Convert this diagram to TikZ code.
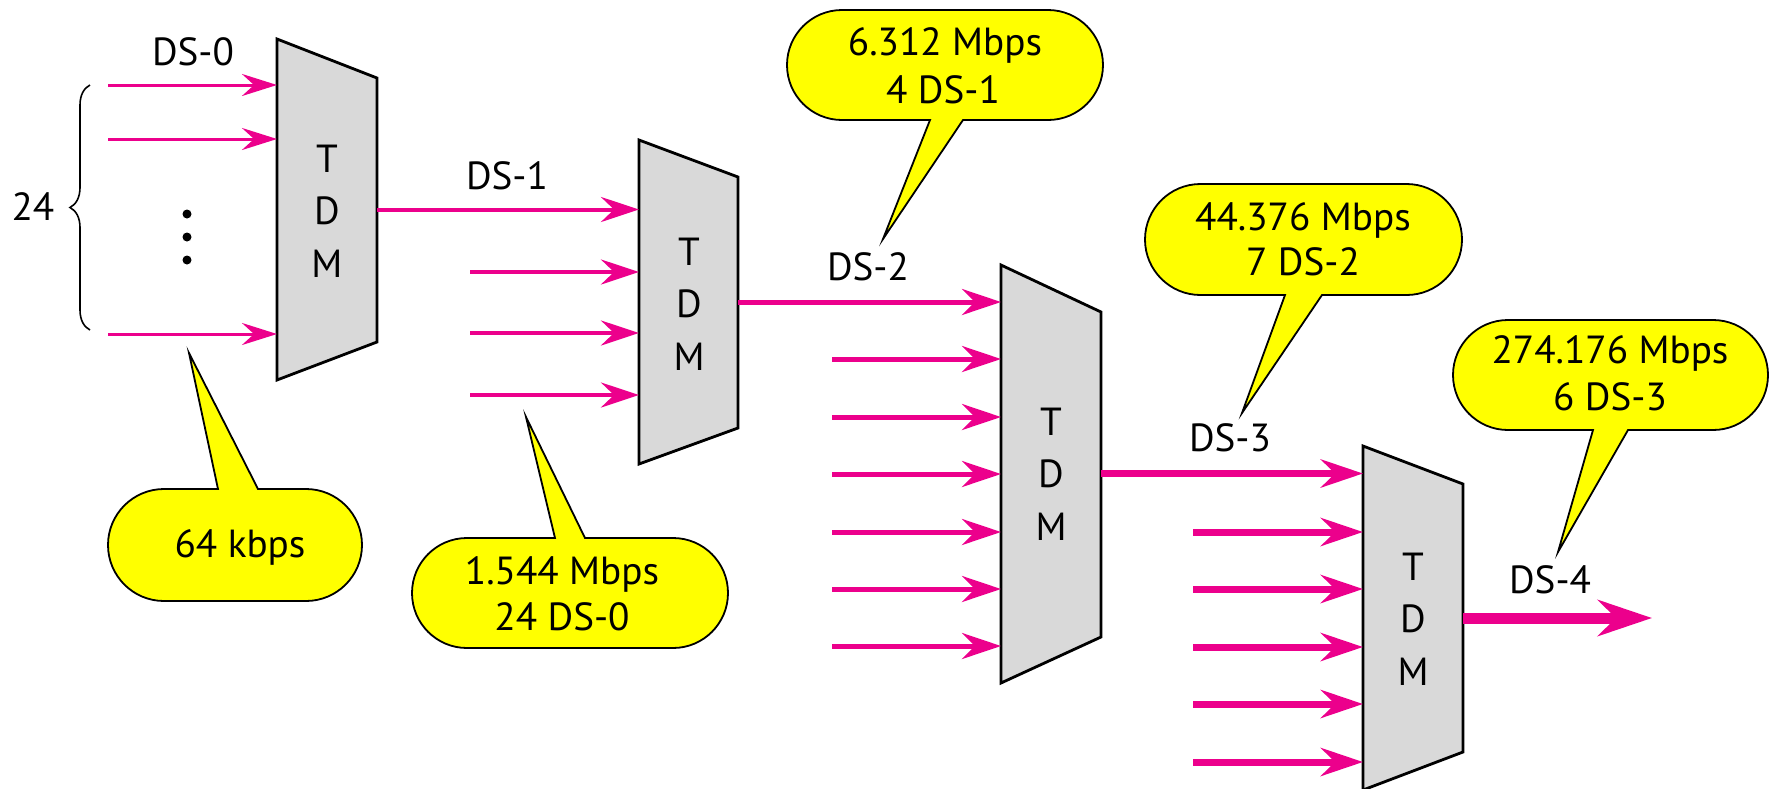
\documentclass[tikz,border=0pt]{standalone}
\usepackage{fontspec}
\setmainfont{PT Sans}
\usetikzlibrary{arrows.meta,decorations.pathreplacing}
\definecolor{mag}{RGB}{236,0,140}
\definecolor{muxgray}{RGB}{217,217,217}
\definecolor{callyellow}{RGB}{255,255,0}
\begin{document}
\begin{tikzpicture}[x=0.5pt,y=-0.5pt,
  lbl/.style={font=\fontsize{19.6}{23}\selectfont, anchor=base, inner sep=0pt},
  mux/.style={draw=black, fill=muxgray, line width=1.4pt, line join=miter},
  callout/.style={draw=black, fill=callyellow, line width=0.9pt, line join=miter},
  sigA/.style={color=mag, line width=1.5pt, -{Stealth[length=17.5pt,width=11pt,inset=6pt]}},
  sigB/.style={color=mag, line width=2pt, -{Stealth[length=19pt,width=12.5pt,inset=6.5pt]}},
  sigC/.style={color=mag, line width=2.5pt, -{Stealth[length=19.5pt,width=13pt,inset=6.5pt]}},
  sigD/.style={color=mag, line width=3.5pt, -{Stealth[length=21pt,width=14pt,inset=7pt]}},
  sigE/.style={color=mag, line width=5.5pt, -{Stealth[length=27pt,width=18pt,inset=9pt]}}
]
\useasboundingbox (0,0) rectangle (1773,788);

% ---------- multiplexers ----------
\draw[mux] (277,39) -- (377,78) -- (377,342) -- (277,380) -- cycle;
\draw[mux] (639,140) -- (738,177) -- (738,428) -- (639,464) -- cycle;
\draw[mux] (1001,265) -- (1101,312) -- (1101,637) -- (1001,683) -- cycle;
\draw[mux] (1363,446) -- (1463,484) -- (1463,752) -- (1363,790) -- cycle;

\foreach \n/\cx/\by in {1/327/172, 2/689/265, 3/1051/435, 4/1413/580}{
  \node[lbl] (t\n) at (\cx,\by) {T};
  \node[lbl] (d\n) at (\cx,\by+52.5) {D};
  \node[lbl] (m\n) at (\cx,\by+105) {M};
}

% ---------- coordinates ----------
\coordinate (m1out) at (377,209.5);
\coordinate (m2out) at (738,302);
\coordinate (m3out) at (1101,473.5);
\coordinate (m4out) at (1463,618);
\coordinate (ds4end) at (1652,618);

% stage 1 : DS-0
\foreach \i/\y in {1/85, 2/139, 3/334}{
  \coordinate (a\i s) at (108,\y);
  \coordinate (a\i e) at (277,\y);
  \draw[sigA] (a\i s) -- (a\i e);
}
% stage 2 : DS-1
\coordinate (b1e) at (639,209.5);
\draw[sigB] (m1out) -- (b1e);
\foreach \i/\y in {2/272, 3/333, 4/395}{
  \coordinate (b\i s) at (470,\y);
  \coordinate (b\i e) at (639,\y);
  \draw[sigB] (b\i s) -- (b\i e);
}
% stage 3 : DS-2
\coordinate (c1e) at (1001,302);
\draw[sigC] (m2out) -- (c1e);
\foreach \i/\y in {2/359, 3/417, 4/474, 5/532, 6/589, 7/646}{
  \coordinate (c\i s) at (832,\y);
  \coordinate (c\i e) at (1001,\y);
  \draw[sigC] (c\i s) -- (c\i e);
}
% stage 4 : DS-3
\coordinate (e1e) at (1363,473.5);
\draw[sigD] (m3out) -- (e1e);
\foreach \i/\y in {2/532, 3/589, 4/647, 5/704, 6/762}{
  \coordinate (e\i s) at (1193,\y);
  \coordinate (e\i e) at (1363,\y);
  \draw[sigD] (e\i s) -- (e\i e);
}
% stage 5 : DS-4
\draw[sigE] (m4out) -- (ds4end);

% ---------- dots and brace ----------
\fill (187,214) circle (4.5);
\fill (187,237) circle (4.5);
\fill (187,260) circle (4.5);
\coordinate (brb) at (90,330);
\coordinate (brt) at (90,85);
\draw[line width=0.8pt, decorate, decoration={brace, amplitude=10pt}] (brb) -- (brt);

% ---------- labels ----------
\node[lbl] (n24) at (33,220) {24};
\node[lbl] (ds0) at (193,65) {DS-0};
\node[lbl] (ds1) at (507,189) {DS-1};
\node[lbl] (ds2) at (868,280) {DS-2};
\node[lbl] (ds3) at (1230,451) {DS-3};
\node[lbl] (ds4) at (1550,593) {DS-4};

% ---------- callouts ----------
\draw[callout] (258,489) -- (306,489) arc[start angle=270,end angle=450,radius=56]
  -- (164,601) arc[start angle=90,end angle=270,radius=56] -- (218,489) -- (189,353) -- cycle;
\draw[callout] (585,538) -- (673,538) arc[start angle=270,end angle=450,radius=55]
  -- (467,648) arc[start angle=90,end angle=270,radius=55] -- (555,538) -- (526,417) -- cycle;
\draw[callout] (930,120) -- (842,120) arc[start angle=90,end angle=270,radius=55]
  -- (1048,10) arc[start angle=-90,end angle=90,radius=55] -- (963,120) -- (883,239) -- cycle;
\draw[callout] (1285,295) -- (1200.5,295) arc[start angle=90,end angle=270,radius=55.5]
  -- (1406.5,184) arc[start angle=-90,end angle=90,radius=55.5] -- (1322,295) -- (1242,413) -- cycle;
\draw[callout] (1593,430) -- (1508,430) arc[start angle=90,end angle=270,radius=55]
  -- (1713,320) arc[start angle=-90,end angle=90,radius=55] -- (1628,430) -- (1558,552) -- cycle;

\node[lbl] (c1t) at (240,557) {64 kbps};
\node[lbl] (c2a) at (562,584) {1.544 Mbps};
\node[lbl] (c2b) at (562,630) {24 DS-0};
\node[lbl] (c3a) at (945,55) {6.312 Mbps};
\node[lbl] (c3b) at (943,103) {4 DS-1};
\node[lbl] (c4a) at (1303,230) {44.376 Mbps};
\node[lbl] (c4b) at (1303,275) {7 DS-2};
\node[lbl] (c5a) at (1610,363) {274.176 Mbps};
\node[lbl] (c5b) at (1610,410) {6 DS-3};
\end{tikzpicture}
\end{document}
